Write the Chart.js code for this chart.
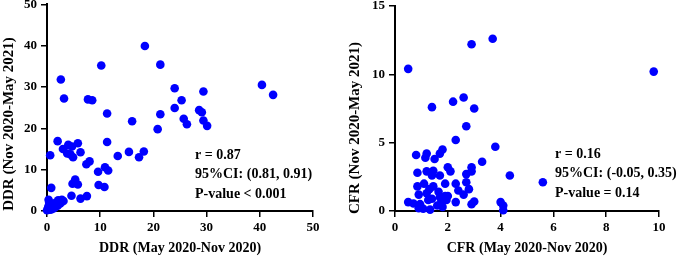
<!DOCTYPE html>
<html lang="en">
<head>
    <meta charset="UTF-8">
    <title>DDR / CFR scatter</title>
    <script src="https://cdn.jsdelivr.net/npm/chart.js@4.4.0/dist/chart.umd.min.js"></script>
    <style>
        html, body { margin: 0; padding: 0; background: #fff; }
        .wrap { position: relative; width: 685px; height: 257px; }
        .panel { position: absolute; top: 0; }
        #ddrPanel { left: 0; width: 340px; height: 257px; }
        #cfrPanel { left: 340px; width: 345px; height: 257px; }
    </style>
</head>
<body>
<div class="wrap">
    <div class="panel" id="ddrPanel"><canvas id="ddrChart"></canvas></div>
    <div class="panel" id="cfrPanel"><canvas id="cfrChart"></canvas></div>
</div>

<script>
    // DDR: May 2020-Nov 2020 (x) vs Nov 2020-May 2021 (y)
    const ddrX = [18.4, 10.2, 21.3, 2.6, 3.2, 7.7, 8.5, 40.4, 42.5, 24.0, 29.4, 25.3, 24.0, 28.6, 29.1,
        21.3, 11.3, 25.7, 26.3, 29.4, 30.1, 16.0, 20.8, 11.3, 2.0, 0.6, 3.0, 4.0, 4.7, 5.8,
        3.8, 4.4, 4.9, 6.3, 13.3, 15.4, 17.3, 18.2, 7.4, 8.0, 9.6, 10.9, 11.5, 0.8, 4.8,
        5.3, 5.8, 9.7, 10.8, 4.6, 6.3, 7.5, 0.3, 2.1, 3.1, 0.0, 0.2, 0.5, 0.7, 1.0,
        1.3, 1.6, 2.5, 2.8, 0.3, 1.2, 0.8, 2.0, 1.5, 0.4];
    const ddrY = [39.9, 35.2, 35.4, 31.8, 27.2, 27.0, 26.8, 30.5, 28.1, 29.7, 28.9, 26.8, 24.9, 24.4, 23.9,
        23.4, 23.6, 22.3, 21.0, 21.9, 20.6, 21.7, 19.8, 16.7, 16.9, 13.5, 15.0, 16.0, 15.6, 16.4,
        13.9, 13.7, 13.0, 14.2, 13.3, 14.3, 13.0, 14.4, 11.3, 12.0, 9.5, 10.6, 9.8, 5.6, 6.6,
        7.6, 6.4, 6.3, 5.8, 3.7, 3.0, 3.6, 2.7, 2.6, 2.4, 0.2, 0.8, 0.3, 1.8, 1.0,
        1.5, 2.0, 1.8, 2.7, 1.2, 0.6, 0.4, 1.3, 0.9, 2.0];

    // CFR: May 2020-Nov 2020 (x) vs Nov 2020-May 2021 (y)
    const cfrX = [0.5, 9.8, 2.9, 3.7, 2.6, 2.2, 1.4, 3.0, 2.7, 2.3, 3.8, 3.3, 4.35, 5.6, 0.8,
        1.15, 1.2, 1.5, 1.7, 1.8, 0.85, 1.2, 1.45, 1.4, 1.7, 2.0, 2.1, 2.9, 2.7, 2.9,
        2.3, 2.7, 2.8, 2.4, 2.6, 1.9, 0.85, 1.1, 0.9, 1.2, 1.3, 1.45, 1.65, 1.7, 1.9,
        2.0, 2.3, 3.0, 2.9, 4.0, 4.1, 4.1, 0.5, 0.7, 0.95, 1.07, 1.33, 1.6, 1.8, 1.95,
        1.26, 1.4, 1.75, 0.9];
    const cfrY = [10.4, 10.2, 12.2, 12.6, 8.3, 8.0, 7.6, 7.5, 6.2, 5.2, 4.7, 3.6, 2.6, 2.1, 4.1,
        3.9, 4.2, 3.8, 4.2, 4.5, 2.8, 2.9, 2.95, 2.6, 2.6, 3.2, 2.9, 3.2, 2.7, 2.9,
        2.0, 2.1, 1.6, 1.5, 1.2, 2.0, 1.8, 2.0, 1.2, 1.3, 1.6, 1.8, 1.4, 1.0, 1.1,
        1.1, 0.65, 0.7, 0.5, 0.65, 0.4, 0.05, 0.65, 0.55, 0.5, 0.17, 0.1, 0.4, 0.3, 0.8,
        0.8, 0.9, 0.6, 0.2];

    const ddrStats = ['r = 0.87', '95%CI: (0.81, 0.91)', 'P-value < 0.001'];
    const cfrStats = ['r = 0.16', '95%CI: (-0.05, 0.35)', 'P-value = 0.14'];

    const FONT = "'Liberation Serif', 'Times New Roman', serif";

    // draws the axis titles and the stats block
    const textPlugin = {
        id: 'panelText',
        afterDraw(chart, args, opts) {
            const ctx = chart.ctx;
            const area = chart.chartArea;
            ctx.save();
            ctx.fillStyle = '#000';
            ctx.textBaseline = 'middle';

            ctx.font = 'bold 14px ' + FONT;
            ctx.textAlign = 'center';
            ctx.fillText(opts.xTitle, (area.left + area.right) / 2, 248);

            ctx.save();
            ctx.translate(opts.yTitleX, opts.yTitleY);
            ctx.rotate(-Math.PI / 2);
            ctx.font = 'bold 15px ' + FONT;
            ctx.fillText(opts.yTitle, 0, 0);
            ctx.restore();

            ctx.font = 'bold 14px ' + FONT;
            ctx.textAlign = 'left';
            opts.stats.forEach((line, i) => {
                ctx.fillText(line, opts.statsX, opts.statsY + i * 19.5);
            });
            ctx.restore();
        }
    };

    function makeChart(id, xs, ys, o) {
        const ctx = document.getElementById(id).getContext('2d');
        const axisCommon = {
            type: 'linear',
            border: { display: true, color: '#000', width: 2 },
            grid: { display: true, drawOnChartArea: false, drawTicks: true, tickLength: 6, color: '#000', lineWidth: 1.5 },
            ticks: { color: '#000', font: { family: FONT, size: 13, weight: 'bold' } }
        };
        return new Chart(ctx, {
            type: 'scatter',
            data: {
                datasets: [{
                    data: xs.map((x, i) => ({ x: x, y: ys[i] })),
                    backgroundColor: '#0000ff',
                    borderWidth: 0,
                    pointRadius: 4.3,
                    clip: false
                }]
            },
            options: {
                responsive: true,
                maintainAspectRatio: false,
                animation: false,
                events: [],
                layout: { padding: { top: o.top, right: o.right, left: 0, bottom: 0 } },
                plugins: {
                    legend: { display: false },
                    tooltip: { enabled: false },
                    panelText: o.text
                },
                scales: {
                    x: Object.assign({}, axisCommon, {
                        min: 0, max: o.xMax,
                        ticks: Object.assign({}, axisCommon.ticks, { stepSize: o.xStep, padding: 3, maxRotation: 0 }),
                        afterFit(s) { s.height = 46; s.paddingLeft = 0; s.paddingRight = 0; }
                    }),
                    y: Object.assign({}, axisCommon, {
                        min: 0, max: o.yMax,
                        ticks: Object.assign({}, axisCommon.ticks, { stepSize: o.yStep, padding: 4 }),
                        afterFit(s) { s.width = o.left; s.paddingTop = 0; s.paddingBottom = 0; }
                    })
                }
            },
            plugins: [textPlugin]
        });
    }

    makeChart('ddrChart', ddrX, ddrY, {
        xMax: 50, xStep: 10, yMax: 50, yStep: 10,
        left: 47, top: 4, right: 27,
        text: {
            xTitle: 'DDR (May 2020-Nov 2020)',
            yTitle: 'DDR (Nov 2020-May 2021)',
            yTitleX: 9, yTitleY: 124,
            stats: ddrStats, statsX: 195, statsY: 155
        }
    });

    makeChart('cfrChart', cfrX, cfrY, {
        xMax: 10, xStep: 2, yMax: 15, yStep: 5,
        left: 55, top: 6, right: 26,
        text: {
            xTitle: 'CFR (May 2020-Nov 2020)',
            yTitle: 'CFR (Nov 2020-May 2021)',
            yTitleX: 15, yTitleY: 128,
            stats: cfrStats, statsX: 215, statsY: 154
        }
    });
</script>
</body>
</html>
